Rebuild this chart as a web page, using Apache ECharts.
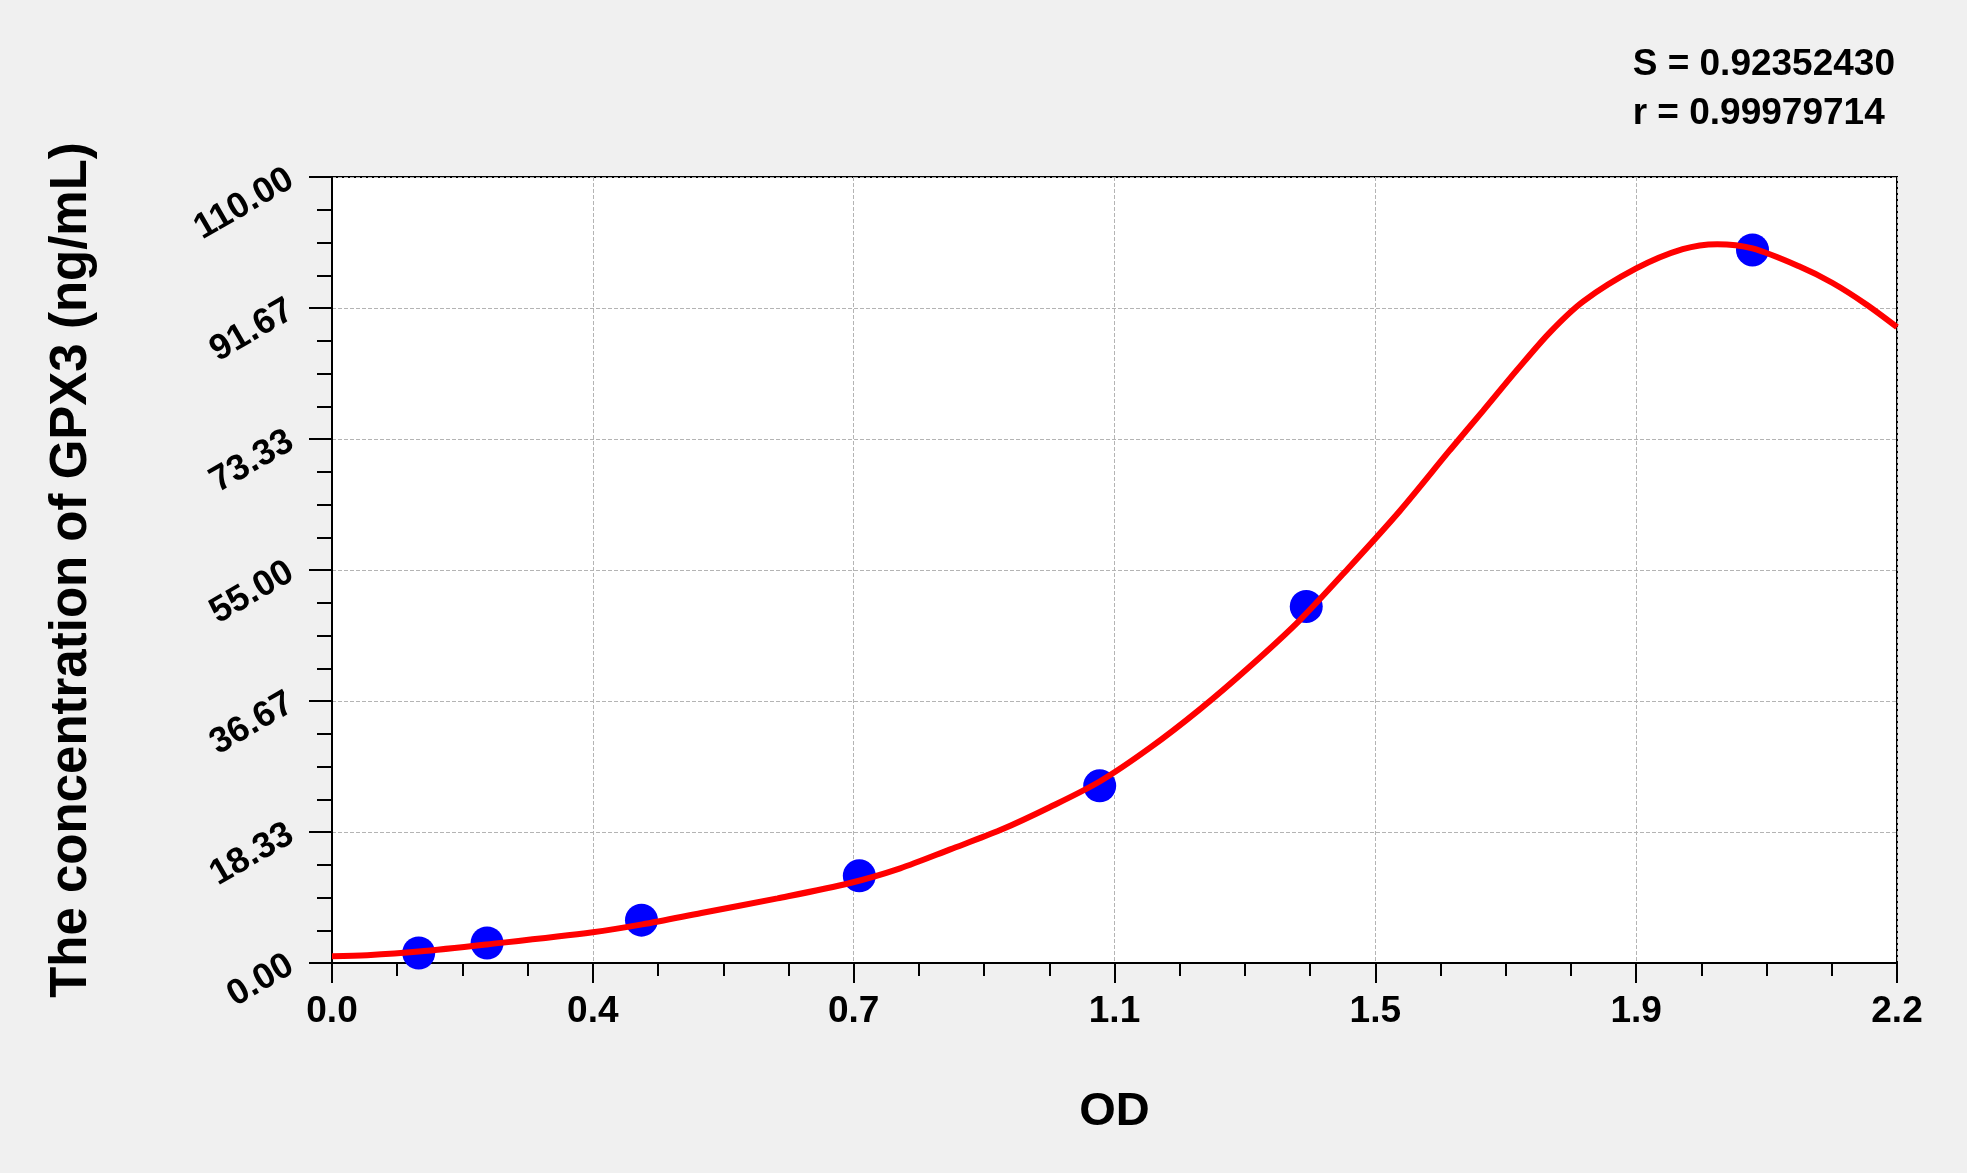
<!DOCTYPE html>
<html>
<head>
<meta charset="utf-8">
<script src="https://cdn.jsdelivr.net/npm/echarts@6/dist/echarts.min.js"></script>
<style>
	html, body { margin: 0; padding: 0; background: #f0f0f0; }
	#main { width: 1967px; height: 1173px; }
</style>
</head>
<body>
<div id="main"></div>
<script>
	/*标准点 (OD, 浓度)*/
	var pointOD = [0.123, 0.220, 0.439, 0.748, 1.089, 1.382, 2.015];
	var pointConc = [1.4, 2.8, 6.0, 12.2, 24.8, 49.9, 99.8];

	/*拟合曲线*/
	var curveOD = [0, 0.05, 0.123, 0.22, 0.37, 0.44, 0.524, 0.632, 0.735, 0.806, 0.877, 0.948, 1.018,
		1.089, 1.16, 1.231, 1.302, 1.373, 1.444, 1.515, 1.586, 1.633, 1.681, 1.728, 1.775, 1.85, 1.916,
		1.965, 2.015, 2.081, 2.128, 2.176, 2.22];
	var curveConc = [0.95, 1.1, 1.6, 2.6, 4.3, 5.4, 7.0, 9.05, 11.2, 13.25, 15.9, 18.6, 21.8,
		25.4, 30.1, 35.5, 41.5, 48.0, 55.5, 63.3, 71.8, 77.3, 83.0, 88.3, 92.6, 97.2, 99.9,
		100.6, 100.0, 97.5, 95.2, 92.2, 89.0];

	/*刻度标签*/
	var xTickLabels = ['0.0', '0.4', '0.7', '1.1', '1.5', '1.9', '2.2'];
	var yTickLabels = ['0.00', '18.33', '36.67', '55.00', '73.33', '91.67', '110.00'];
	var statLines = ['S = 0.92352430', 'r = 0.99979714'];

	var xStep = 0.37, yStep = 110 / 6;

	function pairs(xs, ys) {
		var out = [];
		for (var i = 0; i < xs.length; i++) out.push([xs[i], ys[i]]);
		return out;
	}

	var myChart = echarts.init(document.getElementById('main'));
	var font = "'Liberation Sans', Arial, sans-serif";

	var option = {
		backgroundColor: '#f0f0f0',
		animation: false,
		grid: {
			left: 332, right: 70, top: 177, bottom: 210,
			show: true, backgroundColor: '#ffffff',
			borderColor: '#000000', borderWidth: 2
		},
		graphic: [{
			type: 'text', right: 72, top: 40,
			style: {
				text: statLines.join('\n'), align: 'right', lineHeight: 49,
				font: 'bold 37px ' + font, fill: '#000000'
			}
		}],
		xAxis: {
			type: 'value', min: 0, max: 2.22, interval: xStep,
			name: 'OD', nameLocation: 'middle', nameGap: 126,
			nameTextStyle: { fontSize: 47, fontWeight: 'bold', fontFamily: font, color: '#000' },
			axisLine: { show: true, lineStyle: { color: '#000', width: 2 } },
			axisTick: { show: true, length: 20, lineStyle: { color: '#000', width: 2 } },
			minorTick: { show: true, splitNumber: 4, length: 13, lineStyle: { color: '#000', width: 2 } },
			splitLine: { show: true, lineStyle: { color: '#b4b4b4', type: 'dashed', width: 1 } },
			axisLabel: {
				margin: 30, fontSize: 37, fontWeight: 'bold', color: '#000', fontFamily: font,
				formatter: function (v) { return xTickLabels[Math.round(v / xStep)]; }
			}
		},
		yAxis: {
			type: 'value', min: 0, max: 110, interval: yStep,
			name: 'The concentration of GPX3 (ng/mL)', nameLocation: 'middle', nameGap: 235,
			nameTextStyle: { fontSize: 51, fontWeight: 'bold', fontFamily: font, color: '#000' },
			axisLine: { show: true, lineStyle: { color: '#000', width: 2 } },
			axisTick: { show: true, length: 23, lineStyle: { color: '#000', width: 2 } },
			minorTick: { show: true, splitNumber: 4, length: 15, lineStyle: { color: '#000', width: 2 } },
			splitLine: { show: true, lineStyle: { color: '#b4b4b4', type: 'dashed', width: 1 } },
			axisLabel: {
				margin: 41, rotate: 30, fontSize: 36, fontWeight: 'bold', color: '#000', fontFamily: font,
				formatter: function (v) { return yTickLabels[Math.round(v / yStep)]; }
			}
		},
		series: [{
			type: 'scatter', z: 2,
			symbol: 'circle', symbolSize: 33,
			itemStyle: { color: '#0000ff', opacity: 1 },
			data: pairs(pointOD, pointConc)
		}, {
			type: 'line', z: 3,
			smooth: 0.3, showSymbol: false,
			lineStyle: { color: '#ff0000', width: 6 },
			data: pairs(curveOD, curveConc)
		}]
	};
	myChart.setOption(option);
</script>
</body>
</html>
